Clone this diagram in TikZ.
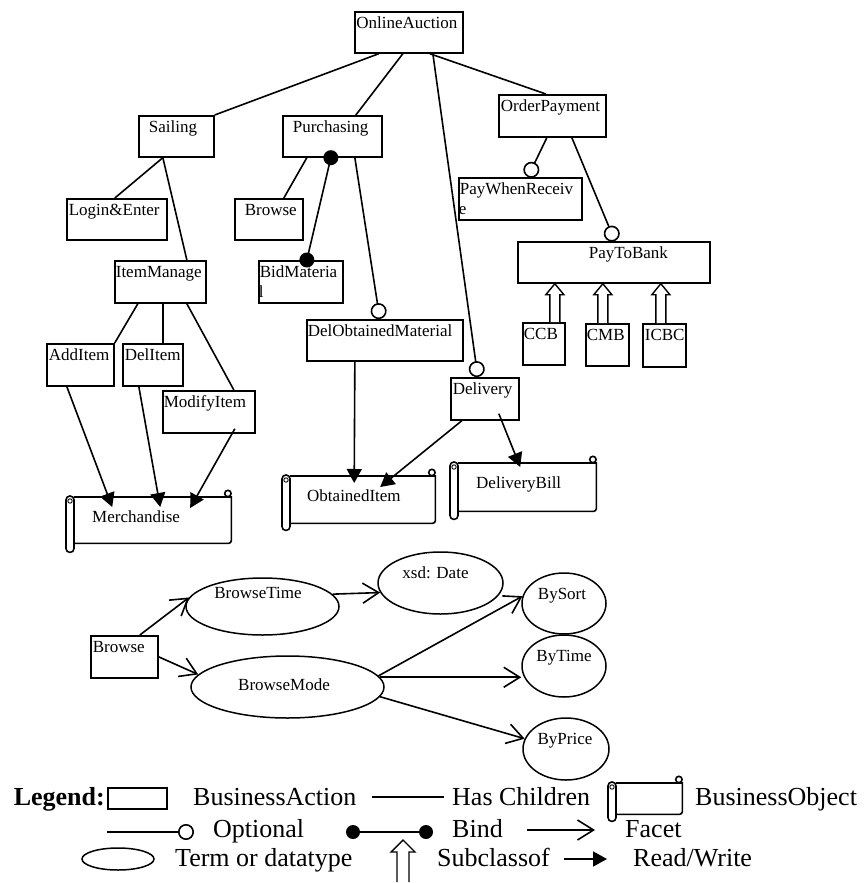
\documentclass[tikz,border=0pt]{standalone}
\usepackage{fontspec}
\setmainfont{Liberation Serif}
\usetikzlibrary{arrows.meta,shapes.geometric,calc}
\newcommand{\btxt}[4]{\parbox[c][#2][t]{#1}{\raggedright\hspace*{#3}\rule{0pt}{17pt}#4}}
\newcommand{\otxt}[4]{\parbox[c][#2][t]{#1}{\raggedright\hspace*{#3}\rule{0pt}{25pt}#4}}
\newcommand{\etxt}[3]{\raisebox{#2}[0pt][0pt]{\makebox[0pt]{\hspace*{#1}\hspace*{#1}#3}}}
\newcommand{\bobjdeco}[2]{%
  \draw[objline] (#1.north west) -- (#1.north east) [rounded corners=3pt] -- (#1.south east) -- (#1.south west);
  \draw[objline, fill=white] ([xshift=-3.5pt,yshift=3.5pt]#1.north east) circle (3.2pt);
  \draw[objline, fill=white, rounded corners=3.8pt] ([xshift=-8pt,yshift=1pt]#1.north west) rectangle ([yshift=-#2]#1.south west);
  \draw[line width=0.9pt] ([xshift=-4pt,yshift=-4pt]#1.north west) circle (2.2pt);
}
\newcommand{\subarr}[5]{%
  \draw[line width=1.4pt, fill=white] let \p1=#1, \p2=#2 in
   (\x1-#3,\y1) -- (\x1-#3,\y2-#5) -- (\x1-#4,\y2-#5) -- (\x1,\y2) -- (\x1+#4,\y2-#5) -- (\x1+#3,\y2-#5) -- (\x1+#3,\y1);}
\begin{document}
\begin{tikzpicture}[x=1pt,y=-1pt,
  every node/.style={inner sep=0pt, font=\fontsize{17}{20}\selectfont},
  act/.style={draw, line width=1.7pt, anchor=north west, inner sep=0pt},
  objline/.style={line width=1.6pt},
  objnode/.style={anchor=north west, inner sep=0pt},
  term/.style={ellipse, draw, line width=1.5pt, inner sep=0pt},
  conn/.style={line width=1.6pt},
  opt/.style={conn, -{Circle[open, length=16pt, width=16pt]}},
  rw/.style={conn, -{Triangle[length=14pt, width=15pt]}},
  facet/.style={conn, -{Straight Barb[length=16pt, width=20pt]}},
  lgtext/.style={anchor=base west, font=\fontsize{26}{30}\selectfont}]
\useasboundingbox (0,0) rectangle (866,883);

% ---------- business actions ----------
\node[act] (OnlineAuction) at (354,11) {\btxt{108pt}{41pt}{1.5pt}{OnlineAuction}};
\node[act] (Sailing) at (138,115) {\btxt{75pt}{41pt}{10pt}{Sailing}};
\node[act] (Purchasing) at (282,115) {\btxt{99pt}{41pt}{10pt}{Purchasing}};
\node[act] (LoginEnter) at (66,198) {\btxt{100pt}{41pt}{2pt}{Login\&Enter}};
\node[act] (Browse) at (234,198) {\btxt{68pt}{41pt}{10pt}{Browse}};
\node[act] (ItemManage) at (114,260) {\btxt{91pt}{42pt}{1pt}{ItemManage}};
\node[act] (BidMaterial) at (258,260) {\btxt{84pt}{42pt}{1pt}{BidMateria\\l}};
\node[act] (OrderPayment) at (498,94) {\btxt{107pt}{42pt}{2pt}{OrderPayment}};
\node[act] (PayWhenReceive) at (458,177) {\btxt{123pt}{42pt}{1pt}{PayWhenReceiv\\e}};
\node[act] (PayToBank) at (517,241) {\btxt{192pt}{41pt}{71pt}{PayToBank}};
\node[act] (CCB) at (522,322) {\btxt{42pt}{42pt}{1pt}{CCB}};
\node[act] (CMB) at (585,323) {\btxt{43pt}{42pt}{1pt}{CMB}};
\node[act] (ICBC) at (642,323) {\btxt{43pt}{43pt}{2pt}{ICBC}};
\node[act] (DelObtained) at (306,319) {\btxt{156pt}{41pt}{1pt}{DelObtainedMaterial}};
\node[act] (Delivery) at (450,377) {\btxt{68pt}{42pt}{2pt}{Delivery}};
\node[act] (AddItem) at (46,343) {\btxt{67pt}{42pt}{2pt}{AddItem}};
\node[act] (DelItem) at (122,343) {\btxt{60pt}{42pt}{2pt}{DelItem}};
\node[act] (ModifyItem) at (162,390) {\btxt{92pt}{42pt}{1pt}{ModifyItem}};

% ---------- business objects ----------
\node[objnode] (Merchandise) at (74,497) {\otxt{157pt}{46pt}{18pt}{Merchandise}};
\node[objnode] (ObtainedItem) at (290,476) {\otxt{145pt}{47pt}{17pt}{ObtainedItem}};
\node[objnode] (DeliveryBill) at (458,463) {\otxt{138pt}{48pt}{18pt}{DeliveryBill}};
\bobjdeco{Merchandise}{9pt}
\bobjdeco{ObtainedItem}{7pt}
\bobjdeco{DeliveryBill}{8pt}

% ---------- has children ----------
\draw[conn] ([xshift=-30pt]OnlineAuction.south) -- (Sailing.north east);
\draw[conn] ([xshift=-6pt]OnlineAuction.south) -- ([xshift=23.5pt]Purchasing.north);
\draw[conn] ([xshift=21pt]OnlineAuction.south) -- ([xshift=-6.5pt]OrderPayment.north);
\draw[conn] ([xshift=-13.5pt]Sailing.south) -- ([xshift=-2pt]LoginEnter.north);
\draw[conn] ([xshift=-13.5pt]Sailing.south) -- ([xshift=26.5pt]ItemManage.north);
\draw[conn] ([xshift=-25.5pt]Purchasing.south) -- ([xshift=15pt]Browse.north);
\draw[conn] ([xshift=-22.5pt]ItemManage.south) -- (AddItem.north east);
\draw[conn] ([xshift=2.5pt]ItemManage.south) -- ([xshift=10pt]DelItem.north);
\draw[conn] ([xshift=26.5pt]ItemManage.south) -- ([xshift=25pt]ModifyItem.north);

% ---------- optional ----------
\draw[opt] ([xshift=24pt]OnlineAuction.south) -- ([xshift=-7pt]Delivery.north);
\draw[opt] ([xshift=22.5pt]Purchasing.south) -- ([xshift=-5pt]DelObtained.north);
\draw[opt] ([xshift=-5.5pt]OrderPayment.south) -- ([xshift=7.5pt]PayWhenReceive.north);
\draw[opt] ([xshift=19.5pt]OrderPayment.south) -- ([xshift=1pt]PayToBank.north);

% ---------- bind ----------
\coordinate (bindA) at ([xshift=-1.5pt]Purchasing.south);
\coordinate (bindB) at ([xshift=6pt]BidMaterial.north);
\draw[conn] (bindA) -- (bindB);
\fill (bindA) circle (7.5pt);
\fill (bindB) circle (7.5pt);

% ---------- read/write ----------
\draw[rw] ([xshift=-13.5pt]AddItem.south) -- ([xshift=-40.5pt,yshift=-10pt]Merchandise.north);
\draw[rw] ([xshift=-14pt]DelItem.south) -- ([xshift=7.5pt,yshift=-10pt]Merchandise.north);
\draw[rw] ([xshift=26pt,yshift=5pt]ModifyItem.south) -- ([xshift=37.5pt,yshift=-11pt]Merchandise.north);
\draw[rw] ([xshift=-30pt]DelObtained.south) -- ([xshift=-8.5pt,yshift=-7pt]ObtainedItem.north);
\draw[rw] ([xshift=-23pt]Delivery.south) -- ([xshift=17.5pt,yshift=-11pt]ObtainedItem.north);
\draw[rw] ([xshift=14pt,yshift=7pt]Delivery.south) -- ([xshift=-7pt,yshift=-4pt]DeliveryBill.north);

% ---------- subclass ----------
\subarr{([xshift=11pt]CCB.north)}{(PayToBank.south)}{5pt}{9pt}{11pt}
\subarr{([xshift=-4.5pt]CMB.north)}{(PayToBank.south)}{5pt}{9pt}{11pt}
\subarr{([xshift=-3.5pt]ICBC.north)}{(PayToBank.south)}{5pt}{9pt}{11pt}

% ---------- facet graph ----------
\node[act] (BrowseB) at (90,635) {\btxt{67pt}{42pt}{2pt}{Browse}};
\node[term, minimum width=153pt, minimum height=57pt] (BrowseTime) at (262.5,606.5) {\etxt{-4.5pt}{8pt}{BrowseTime}};
\node[term, minimum width=193pt, minimum height=62pt] (BrowseMode) at (287.5,687) {\etxt{-3.5pt}{-3pt}{BrowseMode}};
\node[term, minimum width=125pt, minimum height=62pt] (xsd) at (440.5,583) {\etxt{-5pt}{5pt}{xsd: Date}};
\node[term, minimum width=84pt, minimum height=61pt] (BySort) at (564,603.5) {\etxt{-2pt}{4pt}{BySort}};
\node[term, minimum width=84pt, minimum height=62pt] (ByTime) at (564,666) {\etxt{0pt}{5pt}{ByTime}};
\node[term, minimum width=86pt, minimum height=62pt] (ByPrice) at (566,749) {\etxt{-1pt}{5pt}{ByPrice}};
\draw[facet] ([xshift=15.5pt]BrowseB.north) -- (BrowseTime.173);
\draw[facet] (BrowseB.east) -- (BrowseMode.172);
\draw[facet] (BrowseTime.10) -- (xsd.189);
\draw[facet] (BrowseMode.7) -- (BySort.170);
\draw[facet] (BrowseMode.6) -- (BrowseMode.6 -| ByTime.west);
\draw[facet] (BrowseMode.354) -- (ByPrice.166);

% ---------- legend ----------
\node[lgtext, anchor=base east] (LgTitle) at (105,805) {\textbf{Legend:}};
\node[act, line width=1.5pt, minimum width=59pt, minimum height=21pt] (LgBox) at (107,787) {};
\node[lgtext] (LgAction) at (193,805) {BusinessAction};
\coordinate (LgH1) at (372,797);
\coordinate (LgH2) at (444,797);
\draw[conn] (LgH1) -- (LgH2);
\node[lgtext] (LgHas) at (452,805) {Has Children};
\node[objnode, minimum width=66pt, minimum height=31pt] (LgObj) at (616,783) {};
\bobjdeco{LgObj}{7pt}
\node[lgtext] (LgObjT) at (695,805) {BusinessObject};

\coordinate (LgO1) at (107,832);
\coordinate (LgO2) at (194,832);
\draw[opt] (LgO1) -- (LgO2);
\node[lgtext] (LgOpt) at (213,837) {Optional};
\coordinate (LgB1) at (353,832);
\coordinate (LgB2) at (426,832);
\draw[conn] (LgB1) -- (LgB2);
\fill (LgB1) circle (7pt);
\fill (LgB2) circle (7pt);
\node[lgtext] (LgBind) at (452,837) {Bind};
\coordinate (LgF1) at (527,830);
\coordinate (LgF2) at (595,830);
\draw[facet] (LgF1) -- (LgF2);
\node[lgtext] (LgFacet) at (625,837) {Facet};

\node[term, minimum width=72pt, minimum height=22pt] (LgTerm) at (118,859) {};
\node[lgtext] (LgTermT) at (175,866) {Term or datatype};
\coordinate (LgS1) at (403,882);
\coordinate (LgS2) at (403,840);
\subarr{(LgS1)}{(LgS2)}{6pt}{12pt}{12pt}
\node[lgtext] (LgSub) at (437,866) {Subclassof};
\coordinate (LgR1) at (564,859);
\coordinate (LgR2) at (607,859);
\draw[rw] (LgR1) -- (LgR2);
\node[lgtext] (LgRW) at (633,866) {Read/Write};
\end{tikzpicture}
\end{document}
